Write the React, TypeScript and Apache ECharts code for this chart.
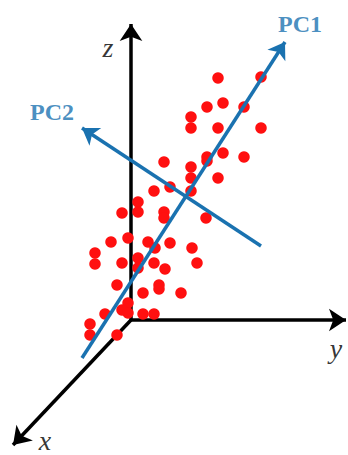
import React, { useEffect, useRef } from "react";
import * as echarts from "echarts";

// Projected sample positions (horizontal = along y axis, vertical = along z axis), origin at the axes' corner
const pointH = [87, 130, 76, 92, 113, 60, 60, 87, 130, 33, 76, 76, 92, 113, 60, 60, 87, 39, 23, 60, 7, 7, -9, 33, 33, 75, -20, -3, 17, 24, 39, 61, -36, -36, -9, 7, 7, 23, 34, 66, -14, 12, 28, 28, 50, -3, -9, -3, -26, 12, 23, -41, -41, -14];
const pointV = [242, 243, 213, 217, 213, 203, 192, 192, 192, 158, 163, 159, 167, 163, 153, 142, 142, 133, 129, 129, 118, 108, 107, 108, 102, 102, 78, 82, 78, 72, 77, 72, 67, 56, 57, 62, 52, 57, 51, 57, 35, 27, 35, 31, 27, 17, 10, 7, 6, 6, 6, -4, -15, -15];

const axisNames = ["x", "y", "z"];
const axisEndH = [-118, 215, 0];
const axisEndV = [-125, 0, 296];
const axisLabelH = [-86, 205, -23];
const axisLabelV = [-120, -28, 273];

const pcNames = ["PC1", "PC2"];
const pcStartH = [-49, 130];
const pcStartV = [-38, 74];
const pcEndH = [154, -49];
const pcEndV = [278, 192];
const pcLabelH = [169, -79];
const pcLabelV = [296, 208];

const BLUE = "#1a72b0";
const RED = "#ff1010";
const SERIF = "'Liberation Serif', 'Times New Roman', serif";

export default function App() {
  const ref = useRef<HTMLDivElement>(null);
  useEffect(() => {
    document.body.style.margin = "0";
    const chart = echarts.init(ref.current!, null, { renderer: "svg" });
    chart.setOption({
      animation: false,
      backgroundColor: "#ffffff",
      grid: { left: 0, right: 0, top: 0, bottom: 0 },
      xAxis: { type: "value", min: -131, max: 217, show: false },
      yAxis: { type: "value", min: -135, max: 320, show: false },
      series: [
        {
          type: "lines",
          coordinateSystem: "cartesian2d",
          z: 1,
          symbol: ["none", "arrow"],
          symbolSize: [12, 17],
          lineStyle: { color: "#000", width: 3.5, opacity: 1 },
          data: axisNames.map((_, i) => ({ coords: [[0, 0], [axisEndH[i], axisEndV[i]]] })),
        },
        {
          type: "scatter",
          z: 2,
          symbolSize: 11.5,
          itemStyle: { color: RED, opacity: 1 },
          data: pointH.map((h, i) => [h, pointV[i]]),
        },
        {
          type: "lines",
          coordinateSystem: "cartesian2d",
          z: 3,
          symbol: ["none", "arrow"],
          symbolSize: [12, 16],
          lineStyle: { color: BLUE, width: 3.5, opacity: 1 },
          data: pcNames.map((_, i) => ({ coords: [[pcStartH[i], pcStartV[i]], [pcEndH[i], pcEndV[i]]] })),
        },
        {
          type: "scatter",
          z: 4,
          symbolSize: 0,
          silent: true,
          label: {
            show: true,
            position: "inside",
            formatter: (p: any) => axisNames[p.dataIndex],
            color: "#000",
            fontFamily: SERIF,
            fontStyle: "italic",
            fontSize: 28,
          },
          data: axisNames.map((_, i) => [axisLabelH[i], axisLabelV[i]]),
        },
        {
          type: "scatter",
          z: 4,
          symbolSize: 0,
          silent: true,
          label: {
            show: true,
            position: "inside",
            formatter: (p: any) => pcNames[p.dataIndex],
            color: BLUE,
            fontFamily: SERIF,
            fontWeight: "bold",
            fontSize: 24,
          },
          data: pcNames.map((_, i) => [pcLabelH[i], pcLabelV[i]]),
        },
      ],
    });
    return () => chart.dispose();
  }, []);
  return <div ref={ref} style={{ width: 348, height: 455 }} />;
}
